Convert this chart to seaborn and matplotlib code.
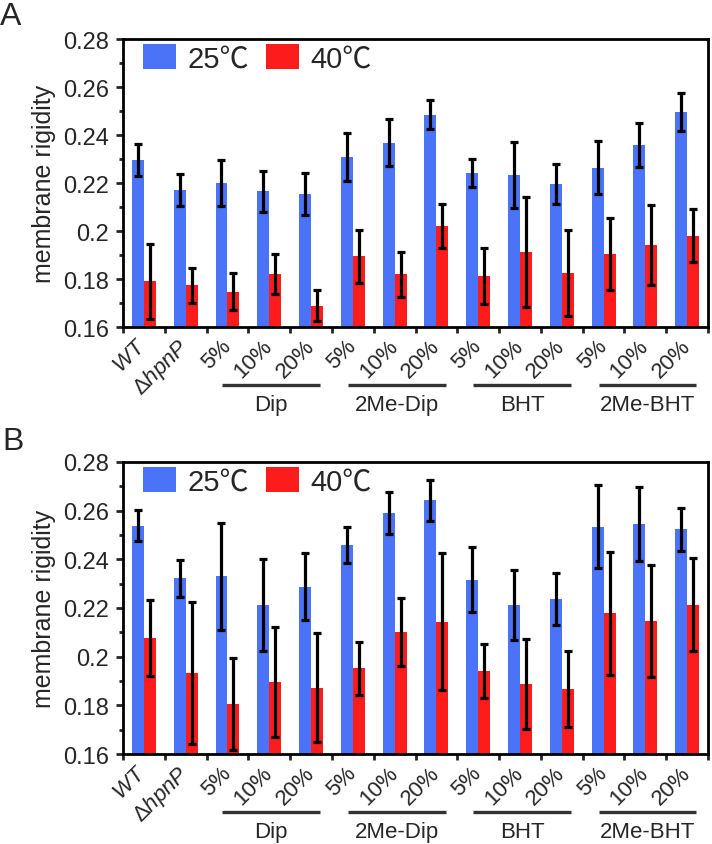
import numpy as np
import pandas as pd
import matplotlib
matplotlib.use('Agg')
import matplotlib.pyplot as plt
import matplotlib.transforms as mtransforms
from matplotlib.ticker import MultipleLocator, FixedLocator
from matplotlib.font_manager import FontProperties
import seaborn as sns

sns.set_style('ticks')
plt.rcParams['font.family'] = ['Liberation Sans', 'DejaVu Sans']
plt.rcParams['mathtext.fontset'] = 'custom'
plt.rcParams['mathtext.rm'] = 'Liberation Sans'
plt.rcParams['mathtext.it'] = 'Liberation Sans:italic'

# data
conditions = ['WT', 'dhpnP', 'Dip 5%', 'Dip 10%', 'Dip 20%',
              '2Me-Dip 5%', '2Me-Dip 10%', '2Me-Dip 20%',
              'BHT 5%', 'BHT 10%', 'BHT 20%',
              '2Me-BHT 5%', '2Me-BHT 10%', '2Me-BHT 20%']
tick_labels = [r'$\it{WT}$', r'$\Delta\it{hpnP}$'] + ['5%', '10%', '20%'] * 4
groups = ['Dip', '2Me-Dip', 'BHT', '2Me-BHT']
temps = ['25\u2103', '40\u2103']
y_ticks = [0.16, 0.18, 0.20, 0.22, 0.24, 0.26, 0.28]
y_ticklabels = ['0.16', '0.18', '0.2', '0.22', '0.24', '0.26', '0.28']

# panel A
a_25 = [0.2296, 0.2171, 0.2200, 0.2165, 0.2154, 0.2310, 0.2367, 0.2485,
        0.2242, 0.2233, 0.2195, 0.2264, 0.2358, 0.2496]
a_25_err = [0.0066, 0.0068, 0.0097, 0.0086, 0.0088, 0.0100, 0.0098, 0.0060,
            0.0060, 0.0137, 0.0083, 0.0110, 0.0093, 0.0078]
a_40 = [0.1790, 0.1774, 0.1747, 0.1821, 0.1689, 0.1895, 0.1820, 0.2022,
        0.1813, 0.1911, 0.1824, 0.1903, 0.1942, 0.1980]
a_40_err = [0.0158, 0.0073, 0.0078, 0.0083, 0.0065, 0.0110, 0.0094, 0.0092,
            0.0115, 0.0229, 0.0180, 0.0150, 0.0165, 0.0110]

# panel B
b_25 = [0.2538, 0.2322, 0.2330, 0.2212, 0.2288, 0.2459, 0.2590, 0.2642,
        0.2316, 0.2212, 0.2237, 0.2534, 0.2544, 0.2523]
b_25_err = [0.0064, 0.0075, 0.0220, 0.0190, 0.0138, 0.0075, 0.0088, 0.0083,
            0.0133, 0.0145, 0.0108, 0.0171, 0.0152, 0.0088]
b_40 = [0.2078, 0.1933, 0.1805, 0.1895, 0.1872, 0.1952, 0.2100, 0.2144,
        0.1942, 0.1888, 0.1866, 0.2178, 0.2147, 0.2214]
b_40_err = [0.0156, 0.0290, 0.0190, 0.0226, 0.0224, 0.0110, 0.0140, 0.0280,
            0.0110, 0.0186, 0.0156, 0.0253, 0.0231, 0.0190]

colors = ['#4a73f7', '#fc1c1c']


def draw_panel(ax, v25, e25, v40, e40, height_px):
    df = pd.DataFrame({
        'condition': conditions * 2,
        'temp': [temps[0]] * len(conditions) + [temps[1]] * len(conditions),
        'value': v25 + v40,
    })
    sns.barplot(data=df, x='condition', y='value', hue='temp', order=conditions,
                hue_order=temps, palette=colors, width=0.574, errorbar=None,
                saturation=1, linewidth=0, ax=ax)
    # error bars at the bar centres
    for cont, err in zip(ax.containers, [e25, e40]):
        xs = [b.get_x() + b.get_width() / 2 for b in cont]
        ys = [b.get_height() for b in cont]
        ax.errorbar(xs, ys, yerr=err, fmt='none', ecolor='black', elinewidth=2.3,
                    capsize=3, capthick=2.3, zorder=5)

    ax.set_ylim(0.16, 0.28)
    ax.set_xlim(-0.5, len(conditions) - 0.5)
    ax.set_yticks(y_ticks)
    ax.set_yticklabels(y_ticklabels, fontsize=17)
    ax.yaxis.set_minor_locator(MultipleLocator(0.01))
    ax.set_xticks(range(len(conditions)))
    ax.set_xticklabels(tick_labels, fontsize=16, rotation=45, ha='right',
                       va='center', rotation_mode='anchor')
    ax.xaxis.set_minor_locator(FixedLocator(np.arange(-0.5, len(conditions), 1)))
    offset = mtransforms.ScaledTranslation(6 / 100, 0, ax.figure.dpi_scale_trans)
    for lab in ax.get_xticklabels():
        lab.set_transform(lab.get_transform() + offset)
    ax.tick_params(axis='x', which='major', length=0, pad=11)
    ax.tick_params(axis='x', which='minor', length=4, width=2, direction='out')
    ax.tick_params(axis='y', which='major', length=5, width=2, pad=5, direction='out')
    ax.tick_params(axis='y', which='minor', length=3, width=2, direction='out')
    for s in ax.spines.values():
        s.set_visible(True)
        s.set_linewidth(2)
        s.set_color('black')

    ax.set_xlabel('')
    ax.set_ylabel('membrane rigidity', fontsize=18)
    ax.yaxis.set_label_coords(-0.115, 0.5)

    handles, labels = ax.get_legend_handles_labels()
    leg_font = FontProperties(family=['Liberation Sans', 'Noto Sans CJK JP', 'DejaVu Sans'], size=21)
    ax.legend(handles, labels, loc='upper left', bbox_to_anchor=(20 / 585, 1 - 5 / height_px),
              ncol=2, frameon=False, prop=leg_font, handlelength=1.13, handleheight=0.96,
              handletextpad=0.4, columnspacing=0.58, borderpad=0, borderaxespad=0)

    trans = mtransforms.blended_transform_factory(ax.transData, ax.transAxes)
    for i, g in enumerate(groups):
        x0 = 2 + 3 * i
        ax.plot([x0 - 0.12, x0 + 2.22], [-58 / height_px] * 2, transform=trans,
                color='#333333', lw=2.4, clip_on=False, solid_capstyle='butt')
        ax.text(x0 + 1.05, -77 / height_px, g, transform=trans, ha='center',
                va='center', fontsize=16)


fig = plt.figure(figsize=(7.12, 8.45), dpi=100)
axA = fig.add_axes([0.1728, 0.6118, 0.8216, 0.3408])
axB = fig.add_axes([0.1728, 0.1065, 0.8216, 0.3456])

draw_panel(axA, a_25, a_25_err, a_40, a_40_err, 288)
draw_panel(axB, b_25, b_25_err, b_40, b_40_err, 292)

fig.text(0.0, 1 - 25 / 845, 'A', fontsize=23, va='baseline', ha='left')
fig.text(0.004, 1 - 450 / 845, 'B', fontsize=23, va='baseline', ha='left')

fig.savefig('out.png', dpi=100)
